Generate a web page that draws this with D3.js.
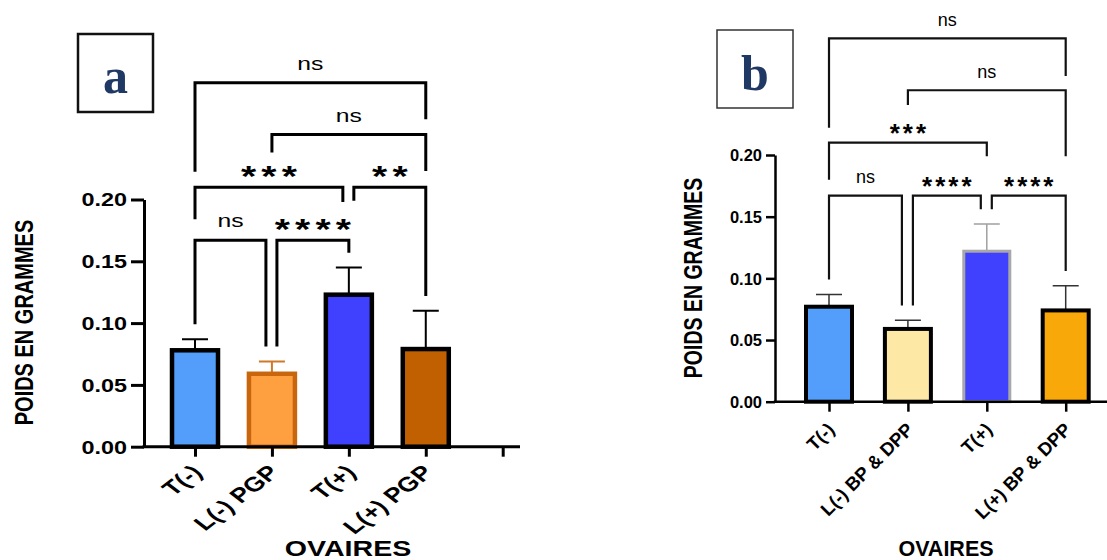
<!DOCTYPE html>
<html>
<head>
<meta charset="utf-8">
<script src="https://cdn.jsdelivr.net/npm/d3@7"></script>
<style>
  body { margin: 0; background: #fff; }
  svg { display: block; }
</style>
</head>
<body>
<svg id="chart" width="1107" height="560"></svg>
<script>
// panel a values
var catsA = ['T(-)', 'L(-) PGP', 'T(+)', 'L(+) PGP', ' ']
var meanA = [0.078, 0.059, 0.123, 0.079]
var errA = [0.009, 0.010, 0.022, 0.031]
var compA = [[0, 1, 'ns'], [1, 2, '****'], [0, 2, '***'], [2, 3, '**'], [1, 3, 'ns'], [0, 3, 'ns']]

// panel b values
var catsB = ['T(-)', 'L(-) BP & DPP', 'T(+)', 'L(+) BP & DPP']
var meanB = [0.077, 0.059, 0.122, 0.074]
var errB = [0.010, 0.007, 0.022, 0.020]
var compB = [[0, 1, 'ns'], [1, 2, '****'], [2, 3, '****'], [0, 2, '***'], [1, 3, 'ns'], [0, 3, 'ns']]

var yTicks = [0, 0.05, 0.10, 0.15, 0.20]

// bracket layout (value units): tier of each comparison, and leg ends (null = just above error bar)
var tierVals = [0.167, 0.21, 0.2525, 0.2945]
var tierA = [0, 0, 1, 1, 2, 3]
var legsA = [[null, null], [null, null], [0.184, 0.198], [0.199, null], [0.238, 0.223], [0.2225, 0.265]]
var tierB = [0, 0, 0, 1, 2, 3]
var legsB = [[null, null], [null, null], [null, null], [0.180, 0.199], [0.2405, 0.199], [0.222, 0.264]]

var sans = "'Liberation Sans', Arial, sans-serif"
var svg = d3.select('#chart')

function drawPanel(o) {
  var g = svg.append('g')
  var sx = o.stretch

  var x = d3.scalePoint().domain(o.cats).range(o.xRange)
  var y = d3.scaleLinear().domain([0, 0.2]).range(o.yRange)

  // Y axis
  var yAxis = d3.axisLeft(y)
    .tickValues(yTicks)
    .tickFormat(d3.format('.2f'))
    .tickSize(o.tickLen)
    .tickSizeOuter(0)
  var ya = g.append('g')
    .attr('transform', `translate(${o.axisX},0)`)
    .call(yAxis)
  ya.select('.domain').attr('stroke-width', o.axisW)
  ya.selectAll('.tick line').attr('stroke-width', o.axisW)
  ya.selectAll('.tick text')
    .attr('x', 0)
    .attr('dy', '0.36em')
    .attr('fill', '#000')
    .attr('transform', `translate(${-o.tickLen - o.labelGap},0) scale(${sx},1)`)
    .style('font', `bold ${o.tickFont}px ${sans}`)

  // error bars (under the bars)
  var barW = o.barW
  g.append('g').selectAll('path')
    .data(o.mean)
    .join('path')
    .attr('d', (d, i) => {
      var cx = x(o.cats[i])
      var top = y(d + o.err[i])
      return `M${cx},${y(d)}V${top}M${cx - o.cap / 2},${top}H${cx + o.cap / 2}`
    })
    .attr('fill', 'none')
    .attr('stroke', (d, i) => o.errColors[i])
    .attr('stroke-width', o.errW)

  // bars
  g.append('g').selectAll('rect')
    .data(o.mean)
    .join('rect')
    .attr('x', (d, i) => x(o.cats[i]) - barW / 2)
    .attr('y', d => y(d))
    .attr('width', barW)
    .attr('height', d => y(0) - y(d))
    .attr('fill', (d, i) => o.fills[i])
    .attr('stroke', (d, i) => o.strokes[i])
    .attr('stroke-width', (d, i) => o.barStrokeW[i])

  // X axis
  var xa = g.append('g')
    .attr('transform', `translate(0,${y(0)})`)
    .call(d3.axisBottom(x).tickSize(o.xTickLen).tickSizeOuter(0))
  xa.select('.domain').remove()
  xa.selectAll('.tick line').attr('stroke-width', o.axisW)
  xa.selectAll('.tick text')
    .attr('y', 0)
    .attr('dy', 0)
    .attr('text-anchor', 'end')
    .attr('fill', '#000')
    .attr('transform', `translate(${o.lblDx},${o.lblDy}) scale(${sx},1) rotate(-45)`)
    .style('font', `bold ${o.xFont}px ${sans}`)
  g.append('line')
    .attr('x1', o.axisX - o.axisW / 2)
    .attr('x2', o.xEnd)
    .attr('y1', y(0))
    .attr('y2', y(0))
    .attr('stroke', '#000')
    .attr('stroke-width', o.axisW)

  // significance brackets
  o.comp.forEach(function(c, i) {
    var t = o.tiers[i]
    var lineY = y(tierVals[t])
    var xl = x(o.cats[c[0]])
    var xr = x(o.cats[c[1]])
    o.comp.forEach(function(c2, j) {
      if (j !== i && o.tiers[j] === t) {
        if (c2[1] === c[0]) xl += 5
        if (c2[0] === c[1]) xr -= 6
      }
    })
    var lb = o.legs[i][0] != null ? o.legs[i][0] : o.mean[c[0]] + o.err[c[0]] + 0.012
    var rb = o.legs[i][1] != null ? o.legs[i][1] : o.mean[c[1]] + o.err[c[1]] + 0.012
    g.append('path')
      .attr('d', `M${xl},${y(lb)}V${lineY}H${xr}V${y(rb)}`)
      .attr('fill', 'none')
      .attr('stroke', o.bracketColor)
      .attr('stroke-width', o.bracketW)

    var stars = c[2] !== 'ns'
    var ls = stars ? o.starSpacing : 0
    g.append('text')
      .text(c[2])
      .attr('text-anchor', 'middle')
      .attr('dx', ls / 2)
      .attr('transform', `translate(${(xl + xr) / 2},${lineY - (stars ? o.starOff : o.nsOff)}) scale(${sx},1)`)
      .style('font', `${stars ? 'bold ' : ''}${stars ? o.starFont : o.nsFont}px ${sans}`)
      .style('letter-spacing', ls + 'px')
      .attr('fill', '#000')
  })

  // axis titles
  g.append('text')
    .text('POIDS EN GRAMMES')
    .attr('text-anchor', 'middle')
    .attr('transform', `translate(${o.yTitle[0]},${o.yTitle[1]}) scale(${o.titleStretch},1) rotate(-90)`)
    .style('font', `bold ${o.yTitleFont}px ${sans}`)
    .attr('fill', '#000')
  g.append('text')
    .text('OVAIRES')
    .attr('text-anchor', 'middle')
    .attr('transform', `translate(${o.xTitle[0]},${o.xTitle[1]}) scale(${sx},1)`)
    .style('font', `bold ${o.xTitleFont}px ${sans}`)
    .attr('fill', '#000')

  // panel letter box
  g.append('rect')
    .attr('x', o.box[0]).attr('y', o.box[1])
    .attr('width', o.box[2]).attr('height', o.box[3])
    .attr('fill', '#fff')
    .attr('stroke', o.boxColor)
    .attr('stroke-width', o.boxW)
  g.append('text')
    .text(o.letter)
    .attr('x', o.box[0] + o.box[2] / 2)
    .attr('y', o.box[1] + o.letterY)
    .attr('text-anchor', 'middle')
    .style('font', `bold 50px 'Liberation Serif', 'DejaVu Serif', serif`)
    .attr('fill', '#1F3864')
}

drawPanel({
  cats: catsA, mean: meanA, err: errA, comp: compA, tiers: tierA, legs: legsA,
  xRange: [195, 502.7], yRange: [446.7, 199.5], axisX: 144, xEnd: 520,
  axisW: 3, tickLen: 13, labelGap: 4, tickFont: 18, stretch: 1.3,
  xTickLen: 10, lblDx: 8, lblDy: 27, xFont: 20.5,
  barW: 46, cap: 26, errW: 2,
  fills: ['#529EFA', '#FFA040', '#4040FF', '#C06000'],
  strokes: ['#000', '#C8660E', '#000', '#000'],
  barStrokeW: [4.5, 4.5, 4.5, 4.5],
  errColors: ['#000', '#D0782A', '#000', '#000'],
  bracketColor: '#000', bracketW: 3,
  nsFont: 19, nsOff: 13, starFont: 30, starOff: 1, starSpacing: 4,
  yTitle: [33, 322.5], yTitleFont: 20, titleStretch: 1.3,
  xTitle: [348, 555.5], xTitleFont: 22,
  box: [78, 34, 75, 78], boxColor: '#111', boxW: 2.5, letter: 'a', letterY: 59
})

drawPanel({
  cats: catsB, mean: meanB, err: errB, comp: compB, tiers: tierB, legs: legsB,
  xRange: [829, 1065.7], yRange: [401.7, 155], axisX: 775, xEnd: 1107,
  axisW: 2.5, tickLen: 9, labelGap: 4, tickFont: 16.5, stretch: 1,
  xTickLen: 10, lblDx: 6, lblDy: 29, xFont: 18.5,
  barW: 46, cap: 26, errW: 1.5,
  fills: ['#529EFA', '#FDE9A5', '#4040FF', '#F9A80A'],
  strokes: ['#000', '#000', '#A8A8A8', '#000'],
  barStrokeW: [4, 4, 3, 4],
  errColors: ['#333', '#333', '#A0A0A0', '#333'],
  bracketColor: '#111', bracketW: 2.2,
  nsFont: 18, nsOff: 12.5, starFont: 26, starOff: 1, starSpacing: 3,
  yTitle: [702, 278], yTitleFont: 19.5, titleStretch: 1.3,
  xTitle: [946, 555.5], xTitleFont: 21.5,
  box: [717, 30, 76, 78], boxColor: '#333', boxW: 1.5, letter: 'b', letterY: 60
})
</script>
</body>
</html>
